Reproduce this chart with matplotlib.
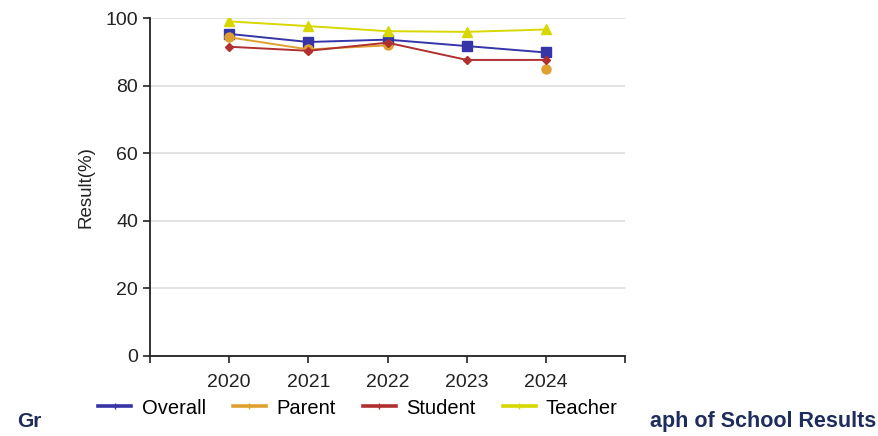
import numpy as np
import matplotlib
matplotlib.use("Agg")
import matplotlib.pyplot as plt
from matplotlib.lines import Line2D

plt.rcParams["font.family"] = ["Liberation Sans", "DejaVu Sans"]

years = [2020, 2021, 2022, 2023, 2024]
overall = [95.3, 92.9, 93.6, 91.7, 89.8]
parent = [94.3, 90.7, 91.9, np.nan, 85.0]
student = [91.5, 90.3, 92.7, 87.6, 87.6]
teacher = [99.0, 97.6, 96.1, 95.9, 96.6]

series = [
    ("Overall", overall, "#3535a8", "s", 6.5),
    ("Parent", parent, "#e0a030", "o", 6.5),
    ("Student", student, "#b03030", "D", 4.5),
    ("Teacher", teacher, "#d8d800", "^", 6.5),
]

fig = plt.figure(figsize=(8.79, 4.36), dpi=100)
ax = fig.add_axes([0.1706, 0.1835, 0.5405, 0.7752])

for name, vals, color, marker, ms in series:
    ax.plot(years, vals, color=color, marker=marker, markersize=ms, lw=1.4, label=name)

ax.set_xlim(2019, 2025)
ax.set_ylim(0, 100)
ax.set_xticks(range(2019, 2026))
ax.set_xticklabels([""] + [str(y) for y in years] + [""])
ax.set_yticks(range(0, 101, 20))
ax.yaxis.grid(True, color="#dddddd", lw=1.2)
ax.set_axisbelow(True)
for s in ["top", "right"]:
    ax.spines[s].set_visible(False)
for s in ["left", "bottom"]:
    ax.spines[s].set_color("#222222")
    ax.spines[s].set_linewidth(1.3)
ax.tick_params(axis="both", labelsize=14, color="#222222", length=5, width=1.2, labelcolor="#222222")
ax.tick_params(axis="x", pad=8)
ax.set_ylabel("Result(%)", fontsize=13.5, color="#222222", labelpad=8)

handles = [Line2D([0], [0], color=c, marker="+", markersize=5, lw=2.6) for _, _, c, _, _ in series]
fig.legend(handles, [s[0] for s in series], loc="center", bbox_to_anchor=(358 / 879, 1 - 408 / 436),
           ncol=4, frameon=False, fontsize=14.5, handlelength=1.65, columnspacing=1.35, handletextpad=0.5)

fig.text(17 / 879, 1 - 421 / 436, "Gr", fontsize=15, fontweight="bold", color="#1f2d5c", va="center", ha="left")
fig.text(876 / 879, 1 - 421 / 436, "aph of School Results", fontsize=15.5, fontweight="bold",
         color="#1f2d5c", va="center", ha="right")

fig.savefig("out.png", dpi=100)
